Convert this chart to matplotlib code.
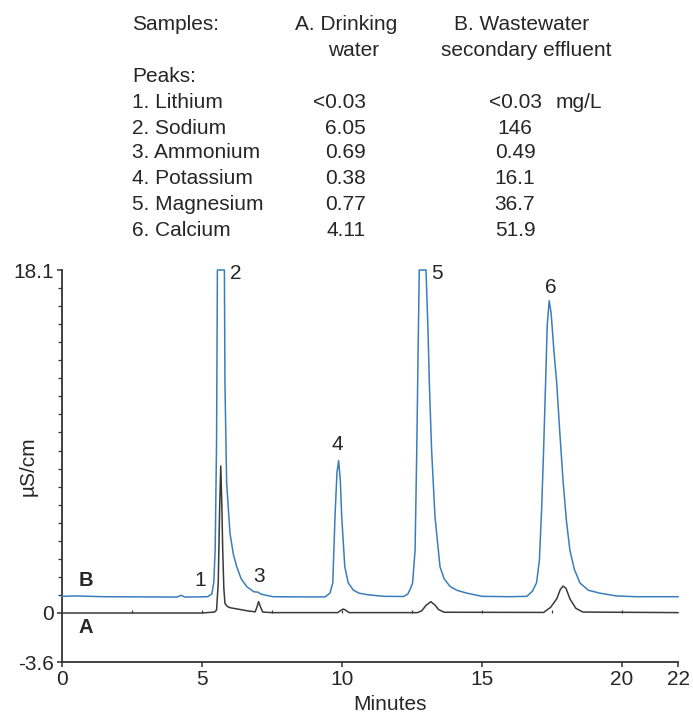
import matplotlib
matplotlib.use("Agg")
import matplotlib.pyplot as plt
import numpy as np

plt.rcParams['font.family'] = ['Liberation Sans', 'DejaVu Sans']

# --- trace B: wastewater secondary effluent (uS/cm) ---
time_b = [0.0, 0.5, 1.5, 4.1, 4.25, 4.4, 5.2, 5.35, 5.42, 5.47, 5.52, 5.55,
          5.8, 5.82, 5.88, 6.0, 6.12, 6.24, 6.4, 6.6, 6.85, 7.0, 7.1, 7.3,
          7.54, 8.5, 9.4, 9.57, 9.67, 9.75, 9.82, 9.88, 9.94, 9.99, 10.1,
          10.22, 10.4, 10.6, 10.88, 11.5, 12.2, 12.35, 12.45, 12.52, 12.61,
          12.67, 12.72, 12.76, 13.0, 13.07, 13.12, 13.2, 13.32, 13.5, 13.65,
          13.86, 14.1, 14.45, 15.0, 16.0, 16.6, 16.8, 16.95, 17.05, 17.13,
          17.2, 17.27, 17.33, 17.4, 17.47, 17.57, 17.67, 17.78, 17.9, 18.02,
          18.14, 18.3, 18.5, 18.8, 19.2, 19.8, 20.5, 22.0]
cond_b = [0.88, 0.9, 0.86, 0.84, 0.93, 0.84, 0.86, 1.0, 1.6, 3.3, 9.0, 18.1,
          18.1, 12.1, 6.86, 4.2, 3.1, 2.44, 1.8, 1.39, 1.12, 1.1, 1.0, 0.93,
          0.86, 0.85, 0.85, 1.05, 1.58, 5.08, 7.4, 8.04, 7.0, 5.08, 2.44,
          1.6, 1.21, 1.05, 0.97, 0.88, 0.87, 1.0, 1.3, 1.58, 3.3, 8.6, 14.0,
          18.1, 18.1, 15.0, 12.1, 8.6, 5.1, 2.44, 1.8, 1.4, 1.2, 1.05, 0.88,
          0.86, 0.88, 1.15, 1.6, 2.8, 5.5, 8.6, 12.1, 15.2, 16.48, 15.8,
          13.8, 12.1, 9.5, 6.86, 4.8, 3.3, 2.3, 1.58, 1.2, 1.05, 0.9, 0.86,
          0.86]

# --- trace A: drinking water ---
time_a = [0.0, 5.0, 5.45, 5.52, 5.58, 5.63, 5.67, 5.71, 5.74, 5.78, 5.82,
          5.9, 6.0, 6.6, 6.9, 6.97, 7.02, 7.08, 7.17, 7.5, 9.85, 9.97, 10.05,
          10.13, 10.25, 12.7, 12.85, 13.0, 13.17, 13.32, 13.45, 13.65, 17.2,
          17.45, 17.67, 17.8, 17.9, 18.0, 18.14, 18.35, 18.6, 22.0]
cond_a = [0.0, 0.0, 0.05, 0.16, 1.58, 5.5, 7.76, 5.6, 3.3, 1.3, 0.5, 0.35,
          0.28, 0.12, 0.06, 0.35, 0.6, 0.35, 0.05, 0.02, 0.02, 0.15, 0.21,
          0.15, 0.02, 0.02, 0.12, 0.4, 0.6, 0.42, 0.18, 0.04, 0.03, 0.3, 0.75,
          1.25, 1.42, 1.3, 0.75, 0.25, 0.05, 0.02]

# peak numbers and where their labels sit
peak_labels = ['1', '2', '3', '4', '5', '6']
label_x = [4.93, 6.21, 7.05, 9.82, 13.4, 17.45]
label_y = [1.74, 17.94, 1.9, 8.9, 17.94, 17.2]

# table on top
peak_names = ['1. Lithium', '2. Sodium', '3. Ammonium', '4. Potassium',
              '5. Magnesium', '6. Calcium']
conc_a = ['<0.03', '6.05', '0.69', '0.38', '0.77', '4.11']
conc_b = ['<0.03', '146', '0.49', '16.1', '36.7', '51.9']

W, H = 693, 715
fig = plt.figure(figsize=(W / 100, H / 100), dpi=100)
ax = fig.add_axes([62 / W, 1 - 662 / H, 616 / W, 392 / H])

blue = '#3b7dbb'
dark = '#3a3a3a'
txt = '#262626'
fs = 15

ax.plot(time_b, cond_b, color=blue, lw=1.1, clip_on=False, zorder=3)
ax.plot(time_a, cond_a, color=dark, lw=1.1, clip_on=False, zorder=4)

# little marks along the A baseline
ax.vlines(np.arange(2.5, 22, 2.5), 0, 0.18, color=dark, lw=0.9)

ymin = -2.586  # bottom of the frame, labelled -3.6 in the original
ax.set_xlim(0, 22)
ax.set_ylim(ymin, 18.1)

for s in ['top', 'right']:
    ax.spines[s].set_visible(False)
for s in ['left', 'bottom']:
    ax.spines[s].set_color('#333333')
    ax.spines[s].set_linewidth(1.3)

ax.set_xticks([0, 5, 10, 15, 20, 22])
ax.set_xticklabels(['0', '5', '10', '15', '20', '22'])
ax.set_yticks([ymin, 0, 18.1])
ax.set_yticklabels(['-3.6', '0', '18.1'])
ax.set_yticks([18.1 - k * 18.1 / 19 for k in range(1, 19)], minor=True)
ax.tick_params(axis='both', which='major', labelsize=fs, length=3.5,
               width=1.1, color='#333333', labelcolor=txt, pad=2)
ax.tick_params(axis='y', which='minor', length=3, width=0.9, color='#333333')
ax.tick_params(axis='x', pad=2)

ax.set_xlabel('Minutes', fontsize=fs, color=txt)
ax.xaxis.set_label_coords((390 - 62) / 616, -0.085)
ax.set_ylabel('µS/cm', fontsize=fs, color=txt)
ax.yaxis.set_label_coords((38 - 62) / 616, 0.5)

for lab, x, y in zip(peak_labels, label_x, label_y):
    ax.text(x, y, lab, fontsize=fs, color=txt, ha='center', va='center')

ax.text(0.86, 1.69, 'B', fontsize=14.5, fontweight='bold', color=txt,
        ha='center', va='center')
ax.text(0.86, -0.74, 'A', fontsize=14.5, fontweight='bold', color=txt,
        ha='center', va='center')


def fy(py):
    return 1 - py / H


fig.text(132 / W, fy(24), 'Samples:', fontsize=fs, color=txt, va='center')
fig.text(346 / W, fy(24), 'A. Drinking', fontsize=fs, color=txt,
         va='center', ha='center')
fig.text(354 / W, fy(51), 'water', fontsize=fs, color=txt,
         va='center', ha='center')
fig.text(522 / W, fy(24), 'B. Wastewater', fontsize=fs, color=txt,
         va='center', ha='center')
fig.text(526 / W, fy(51), 'secondary effluent', fontsize=fs, color=txt,
         va='center', ha='center')
fig.text(132 / W, fy(76), 'Peaks:', fontsize=fs, color=txt, va='center')

row_y = [102, 128, 153, 178, 204, 230]
for name, a, b, py in zip(peak_names, conc_a, conc_b, row_y):
    fig.text(132 / W, fy(py), name, fontsize=fs, color=txt, va='center')
    fig.text(366 / W, fy(py), a, fontsize=fs, color=txt, va='center',
             ha='right')
    fig.text(515 / W, fy(py), b, fontsize=fs, color=txt, va='center',
             ha='center')
fig.text(556 / W, fy(row_y[0]), 'mg/L', fontsize=fs, color=txt, va='center')

fig.savefig('out.png', dpi=100)
